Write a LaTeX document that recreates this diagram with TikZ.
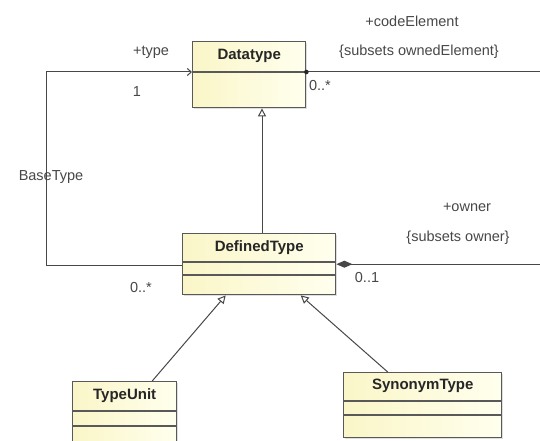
\documentclass[tikz,border=0pt]{standalone}
\usepackage{fontspec}
\setmainfont{Liberation Sans}
\usetikzlibrary{arrows.meta,shadows}

\definecolor{classyellow}{RGB}{250,246,200}
\definecolor{classwhite}{RGB}{255,255,238}

\tikzset{
    umlclass/.style={draw=black!65, line width=1.4pt, anchor=north west, inner sep=0pt,
        left color=classyellow, right color=classwhite,
        drop shadow={shadow xshift=1.5pt, shadow yshift=-1.5pt, opacity=0.25}},
    compart/.style={draw=black!65, line width=1.4pt},
    classname/.style={font=\fontsize{15}{17}\selectfont\bfseries, text=black!85},
    endlabel/.style={font=\fontsize{14.5}{16}\selectfont, text=black!72},
    assoc/.style={draw=black!72, line width=1pt},
}

\begin{document}
\begin{tikzpicture}[x=1pt,y=-1pt]


    \useasboundingbox (0,0) rectangle (540,441);
    \clip (0,0) rectangle (540,441);

    \pgfmathsetmacro{\bx}{46.5}
    \pgfmathsetmacro{\gx}{262}

    % classes
    \node[umlclass, minimum width=113pt, minimum height=66pt] (dt) at (192,41) {};
    \draw[compart] (dt.west |- 0,72) -- (dt.east |- 0,72);
    \node[classname] (dtname) at (dt.north |- 0,56) {Datatype};

    \node[umlclass, minimum width=153pt, minimum height=61pt] (ddt) at (182,233) {};
    \draw[compart] (ddt.west |- 0,262) -- (ddt.east |- 0,262);
    \draw[compart] (ddt.west |- 0,275) -- (ddt.east |- 0,275);
    \node[classname] (ddtname) at (ddt.north |- 0,248) {DefinedType};

    \node[umlclass, minimum width=104pt, minimum height=75pt] (tu) at (72,381) {};
    \draw[compart] (tu.west |- 0,411) -- (tu.east |- 0,411);
    \draw[compart] (tu.west |- 0,426) -- (tu.east |- 0,426);
    \node[classname] (tuname) at (tu.north |- 0,396) {TypeUnit};

    \node[umlclass, minimum width=158pt, minimum height=65pt] (st) at (343,372) {};
    \draw[compart] (st.west |- 0,401) -- (st.east |- 0,401);
    \draw[compart] (st.west |- 0,415) -- (st.east |- 0,415);
    \node[classname] (stname) at (st.north |- 0,386) {SynonymType};

    \coordinate (bt) at (\bx,265);
    \coordinate (ce) at (540,72);
    \coordinate (gen) at (\gx,0);

    % associations
    \draw[assoc,-{Straight Barb[length=4pt,width=7pt]}] (ddt.west |- bt) -- (bt) |- (dt.west |- ce);
    \draw[assoc] (dt.east |- ce) -- (ce);
    \fill[black!85] (dt.east |- ce) circle (2.3);
    \draw[assoc,{Diamond[length=16pt,width=7pt]}-] (ddt.east) -- (ddt.east -| ce);

    % generalizations
    \draw[assoc,-{Triangle[open,length=8pt,width=8pt]}] (ddt.north -| gen) -- (dt.south -| gen);
    \draw[assoc,-{Triangle[open,length=8pt,width=8pt]}] ([xshift=27.5pt]tu.north) -- ([xshift=-33.5pt]ddt.south);
    \draw[assoc,-{Triangle[open,length=8pt,width=8pt]}] ([xshift=-35pt]st.north) -- ([xshift=41.5pt]ddt.south);

    \node[endlabel] (ltype) at (151,52) {+type};
    \node[endlabel] (lone) at (137,92) {1};
    \node[endlabel] (lbase) at (51,177.5) {BaseType};
    \node[endlabel] (lmany) at (141,288) {0..*};

    \node[endlabel] (lcode) at (412,21) {+codeElement};
    \node[endlabel] (lsubs) at (419,52) {\{subsets ownedElement\}};
    \node[endlabel] (lcmany) at (320,86) {0..*};

    \node[endlabel] (lowner) at (467,207) {+owner};
    \node[endlabel] (lsubo) at (458,238) {\{subsets owner\}};
    \node[endlabel] (lopt) at (367,278) {0..1};


\end{tikzpicture}
\end{document}
